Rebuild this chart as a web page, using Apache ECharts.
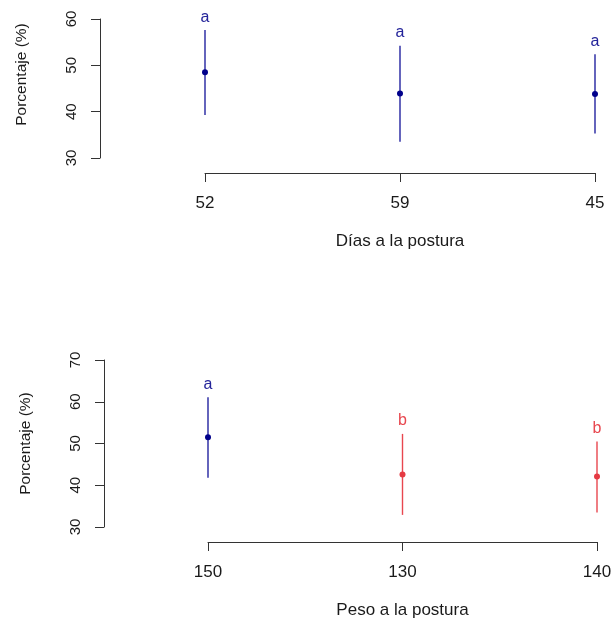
<!DOCTYPE html>
<html>
<head>
<meta charset="utf-8">
<script src="https://cdn.jsdelivr.net/npm/echarts@6/dist/echarts.min.js"></script>
<style>
html,body{margin:0;padding:0;background:#fff;}
#chart{width:616px;height:620px;}
</style>
</head>
<body>
<div id="chart"></div>
<script>
// ---- Data ----
const diasCategories = ['52', '59', '45'];
const diasMean  = [48.5, 43.9, 43.8];
const diasLower = [39.3, 33.5, 35.3];
const diasUpper = [57.6, 54.2, 52.4];
const diasLetters = ['a', 'a', 'a'];

const pesoCategories = ['150', '130', '140'];
const pesoMean  = [51.5, 42.6, 42.1];
const pesoLower = [41.8, 32.9, 33.5];
const pesoUpper = [61.1, 52.3, 50.5];
const pesoLetters = ['a', 'b', 'b'];

const yTicksTop = [30, 40, 50, 60];
const yTicksBottom = [30, 40, 50, 60, 70];

const yTitle = 'Porcentaje (%)';
const xTitleTop = 'Días a la postura';
const xTitleBottom = 'Peso a la postura';

// ---- Styles ----
const FONT = "'Liberation Sans', Arial, Helvetica, sans-serif";
const AXIS_COLOR = '#333';
const TEXT_COLOR = '#1a1a1a';
const groupColors = {
  a: { line: '#2323a0', point: '#00008b', text: '#24249a' },
  b: { line: '#e8474f', point: '#e53a43', text: '#e8474f' }
};

function buildRows(mean, lower, upper) {
  return mean.map((m, i) => [i, m, lower[i], upper[i]]);
}

function makeRender(letters) {
  return function (params, api) {
    const i = api.value(0);
    const m = api.value(1);
    const lo = api.value(2);
    const hi = api.value(3);
    const pm = api.coord([i, m]);
    const pl = api.coord([i, lo]);
    const ph = api.coord([i, hi]);
    const letter = letters[i];
    const c = groupColors[letter];
    return {
      type: 'group',
      children: [
        { type: 'line', shape: { x1: pl[0], y1: pl[1], x2: ph[0], y2: ph[1] },
          style: { stroke: c.line, lineWidth: 1.4 } },
        { type: 'circle', shape: { cx: pm[0], cy: pm[1], r: 3 },
          style: { fill: c.point } },
        { type: 'text', x: ph[0], y: ph[1] - 13,
          style: { text: letter, fill: c.text, font: '16px ' + FONT,
                   align: 'center', verticalAlign: 'middle' } }
      ]
    };
  };
}

function xAxisCfg(gridIndex, cats, title) {
  return {
    type: 'category', gridIndex: gridIndex, data: cats, boundaryGap: false,
    offset: 15,
    axisLine: { show: true, lineStyle: { color: AXIS_COLOR, width: 1 } },
    axisTick: { show: true, length: 9, lineStyle: { color: AXIS_COLOR, width: 1 } },
    axisLabel: { color: TEXT_COLOR, fontFamily: FONT, fontSize: 17, margin: 22 },
    splitLine: { show: false },
    name: title, nameLocation: 'middle', nameGap: 60,
    nameTextStyle: { color: TEXT_COLOR, fontFamily: FONT, fontSize: 17 }
  };
}

function yAxisCfg(gridIndex, ticks, offset, pad) {
  return {
    type: 'value', gridIndex: gridIndex,
    min: ticks[0], max: ticks[ticks.length - 1], interval: ticks[1] - ticks[0],
    offset: offset,
    axisLine: { show: true, lineStyle: { color: AXIS_COLOR, width: 1 } },
    axisTick: { show: true, length: 9, lineStyle: { color: AXIS_COLOR, width: 1 } },
    axisLabel: { color: TEXT_COLOR, fontFamily: FONT, fontSize: 15, rotate: 90, margin: 21 },
    splitLine: { show: false },
    name: yTitle, nameLocation: 'middle', nameGap: 70,
    nameTextStyle: { color: TEXT_COLOR, fontFamily: FONT, fontSize: 15.5, padding: pad }
  };
}

const chart = echarts.init(document.getElementById('chart'), null, { renderer: 'canvas' });
chart.setOption({
  animation: false,
  backgroundColor: '#fff',
  grid: [
    { left: 205, right: 21, top: 19, height: 139 },
    { left: 208, right: 19, top: 360, height: 168 }
  ],
  xAxis: [
    xAxisCfg(0, diasCategories, xTitleTop),
    xAxisCfg(1, pesoCategories, xTitleBottom)
  ],
  yAxis: [
    yAxisCfg(0, yTicksTop, 105, [0, 0, 0, 28]),
    yAxisCfg(1, yTicksBottom, 104, [0, 0, 0, 0])
  ],
  series: [
    { type: 'custom', xAxisIndex: 0, yAxisIndex: 0, clip: false,
      renderItem: makeRender(diasLetters),
      encode: { x: 0, y: [1, 2, 3] },
      data: buildRows(diasMean, diasLower, diasUpper) },
    { type: 'custom', xAxisIndex: 1, yAxisIndex: 1, clip: false,
      renderItem: makeRender(pesoLetters),
      encode: { x: 0, y: [1, 2, 3] },
      data: buildRows(pesoMean, pesoLower, pesoUpper) }
  ]
});
</script>
</body>
</html>
